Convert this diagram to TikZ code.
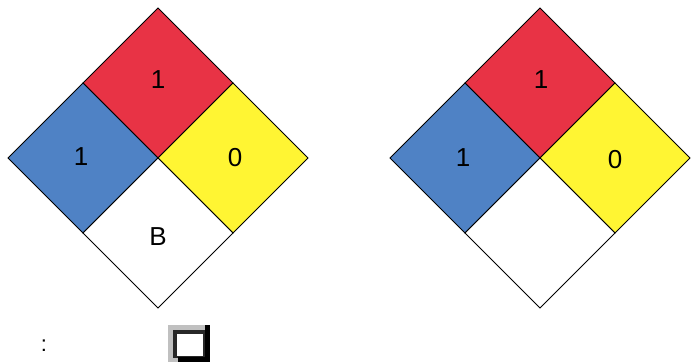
\documentclass[tikz,border=0pt]{standalone}
\usepackage{fontspec}
\setmainfont{Liberation Sans}
\usepackage{tikz}
\usetikzlibrary{positioning}

\definecolor{nfpared}{RGB}{232,51,69}
\definecolor{nfpablue}{RGB}{79,130,197}
\definecolor{nfpayellow}{RGB}{255,245,51}
\definecolor{iconGray}{RGB}{192,192,192}
\definecolor{iconDark}{RGB}{40,40,40}

\begin{document}
\begin{tikzpicture}[
        x = 1pt, y = -1pt, % pixel units, y downwards
        quad/.style = {draw=black, line width=0.8pt, line join=miter},
        rating/.style = {font=\fontsize{26}{30}\selectfont, inner sep=0pt}
        ]

  \useasboundingbox (0,0) rectangle (691,362);

  % left diamond
  \draw[quad, fill=nfpared]    (158,8) -- (233,83) -- (158,158) -- (83,83) -- cycle;
  \draw[quad, fill=nfpablue]   (83,83) -- (158,158) -- (83,233) -- (8,158) -- cycle;
  \draw[quad, fill=nfpayellow] (233,83) -- (308,158) -- (233,233) -- (158,158) -- cycle;
  \draw[quad, fill=white]      (158,158) -- (233,233) -- (158,308) -- (83,233) -- cycle;

  \node[rating] (lfire)   at (158,80)  {1};
  \node[rating] (lhealth) at (81,157)  {1};
  \node[rating] (lreact)  at (235,158) {0};
  \node[rating] (lspec)   at (158,237) {B};

  % right diamond
  \draw[quad, fill=nfpared]    (540,8) -- (615,83) -- (540,158) -- (465,83) -- cycle;
  \draw[quad, fill=nfpablue]   (465,83) -- (540,158) -- (465,233) -- (390,158) -- cycle;
  \draw[quad, fill=nfpayellow] (615,83) -- (690,158) -- (615,233) -- (540,158) -- cycle;
  \draw[quad, fill=white]      (540,158) -- (615,233) -- (540,308) -- (465,233) -- cycle;

  \node[rating] (rfire)   at (541,80)  {1};
  \node[rating] (rhealth) at (463,158) {1};
  \node[rating] (rreact)  at (615,160) {0};

  % bottom line
  \node[font=\fontsize{22}{26}\selectfont, inner sep=0pt] (colon) at (44,346) {:};

  \fill[iconGray] (168,325) rectangle (210,362);
  \fill[black] (205,325) rectangle (210,362);
  \fill[iconDark] (173,330) rectangle (205,358);
  \fill[white] (177,334) rectangle (203,356);
  \fill[black] (178,357) rectangle (210,362);

\end{tikzpicture}
\end{document}
